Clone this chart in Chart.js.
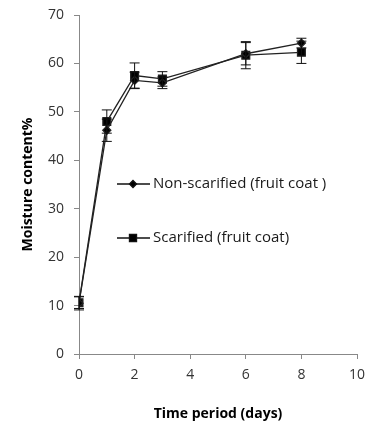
<!DOCTYPE html>
<html>
<head>
<meta charset="utf-8">
<script src="https://cdn.jsdelivr.net/npm/chart.js@4"></script>
<style>
  html, body { margin: 0; padding: 0; background: #fff; }
  #wrap { width: 365px; height: 427px; }
</style>
</head>
<body>
<div id="wrap"><canvas id="moistChart" width="365" height="427"></canvas></div>
<script>
// days
const days = [0, 1, 2, 3, 6, 8];
const nonScarified = [10.5, 46.2, 56.5, 56.0, 62.0, 64.2];
const nonScarifiedErr = [1.4, 2.3, 1.7, 1.2, 2.3, 1.0];
const scarified = [10.6, 48.0, 57.5, 56.8, 61.7, 62.3];
const scarifiedErr = [1.2, 2.4, 2.6, 1.5, 2.8, 2.3];
const xTicks = [0, 2, 4, 6, 8, 10];
const yTicks = [0, 10, 20, 30, 40, 50, 60, 70];

const toPts = (ys) => days.map((d, i) => ({ x: d, y: ys[i] }));

/* error bars drawn through the scales */
const errorBars = {
  id: 'errorBars',
  afterDatasetsDraw(chart) {
    const { ctx, scales: { x, y } } = chart;
    const sets = [[nonScarified, nonScarifiedErr], [scarified, scarifiedErr]];
    ctx.save();
    ctx.strokeStyle = '#111';
    ctx.lineWidth = 1;
    sets.forEach(([vals, errs]) => {
      days.forEach((d, i) => {
        const px = x.getPixelForValue(d);
        const top = y.getPixelForValue(vals[i] + errs[i]);
        const bot = y.getPixelForValue(vals[i] - errs[i]);
        ctx.beginPath();
        ctx.moveTo(px, top); ctx.lineTo(px, bot);
        ctx.moveTo(px - 5, top); ctx.lineTo(px + 5, top);
        ctx.moveTo(px - 5, bot); ctx.lineTo(px + 5, bot);
        ctx.stroke();
      });
    });
    ctx.restore();
  }
};

/* legend inside the plot */
const innerLegend = {
  id: 'innerLegend',
  afterDraw(chart) {
    const { ctx } = chart;
    const items = [
      { text: 'Non-scarified (fruit coat )', style: 'rectRot', r: 3.5, y: 184 },
      { text: 'Scarified (fruit coat)', style: 'rect', r: 5, y: 238 }
    ];
    ctx.save();
    items.forEach(it => {
      ctx.strokeStyle = '#111';
      ctx.lineWidth = 1.3;
      ctx.beginPath();
      ctx.moveTo(117, it.y); ctx.lineTo(150, it.y);
      ctx.stroke();
      ctx.fillStyle = '#000';
      Chart.helpers.drawPoint(ctx, { pointStyle: it.style, radius: it.r, borderWidth: 1 }, 133, it.y);
      ctx.fillStyle = '#1a1a1a';
      ctx.font = '15px "Open Sans", sans-serif';
      ctx.textBaseline = 'middle';
      ctx.fillText(it.text, 153, it.y);
    });
    ctx.restore();
  }
};

const gridOpts = { display: true, drawOnChartArea: false, drawTicks: true, tickLength: 5, color: '#888' };

new Chart(document.getElementById('moistChart'), {
  type: 'line',
  data: {
    datasets: [
      {
        label: 'Non-scarified (fruit coat )',
        data: toPts(nonScarified),
        borderColor: '#222',
        backgroundColor: '#000',
        borderWidth: 1.3,
        pointStyle: 'rectRot',
        pointRadius: 4,
        tension: 0
      },
      {
        label: 'Scarified (fruit coat)',
        data: toPts(scarified),
        borderColor: '#222',
        backgroundColor: '#000',
        borderWidth: 1.3,
        pointStyle: 'rect',
        pointRadius: 5.5,
        tension: 0
      }
    ]
  },
  options: {
    responsive: false,
    animation: false,
    layout: { padding: { top: 15, right: 8, left: 0, bottom: 0 } },
    plugins: { legend: { display: false }, tooltip: { enabled: false } },
    scales: {
      x: {
        type: 'linear',
        min: 0, max: 10,
        afterBuildTicks: (s) => { s.ticks = xTicks.map(v => ({ value: v })); },
        afterFit: (s) => { s.height = 73; s.paddingLeft = 0; s.paddingRight = 0; },
        grid: gridOpts,
        border: { color: '#888' },
        ticks: { color: '#333', font: { family: '"Open Sans", sans-serif', size: 14 }, padding: 8, maxRotation: 0 },
        title: { display: true, text: 'Time period (days)', color: '#000', font: { family: '"Open Sans", sans-serif', size: 14, weight: 'bold' }, padding: { top: 10, bottom: 5 } }
      },
      y: {
        min: 0, max: 70,
        afterBuildTicks: (s) => { s.ticks = yTicks.map(v => ({ value: v })); },
        afterFit: (s) => { s.width = 79; s.paddingTop = 0; s.paddingBottom = 0; },
        grid: gridOpts,
        border: { color: '#888' },
        ticks: { color: '#333', font: { family: '"Open Sans", sans-serif', size: 14 }, padding: 10 },
        title: { display: true, text: 'Moisture content%', color: '#000', font: { family: '"Open Sans", sans-serif', size: 14, weight: 'bold' }, padding: { top: 20, bottom: 10 } }
      }
    }
  },
  plugins: [errorBars, innerLegend]
});
</script>
</body>
</html>
